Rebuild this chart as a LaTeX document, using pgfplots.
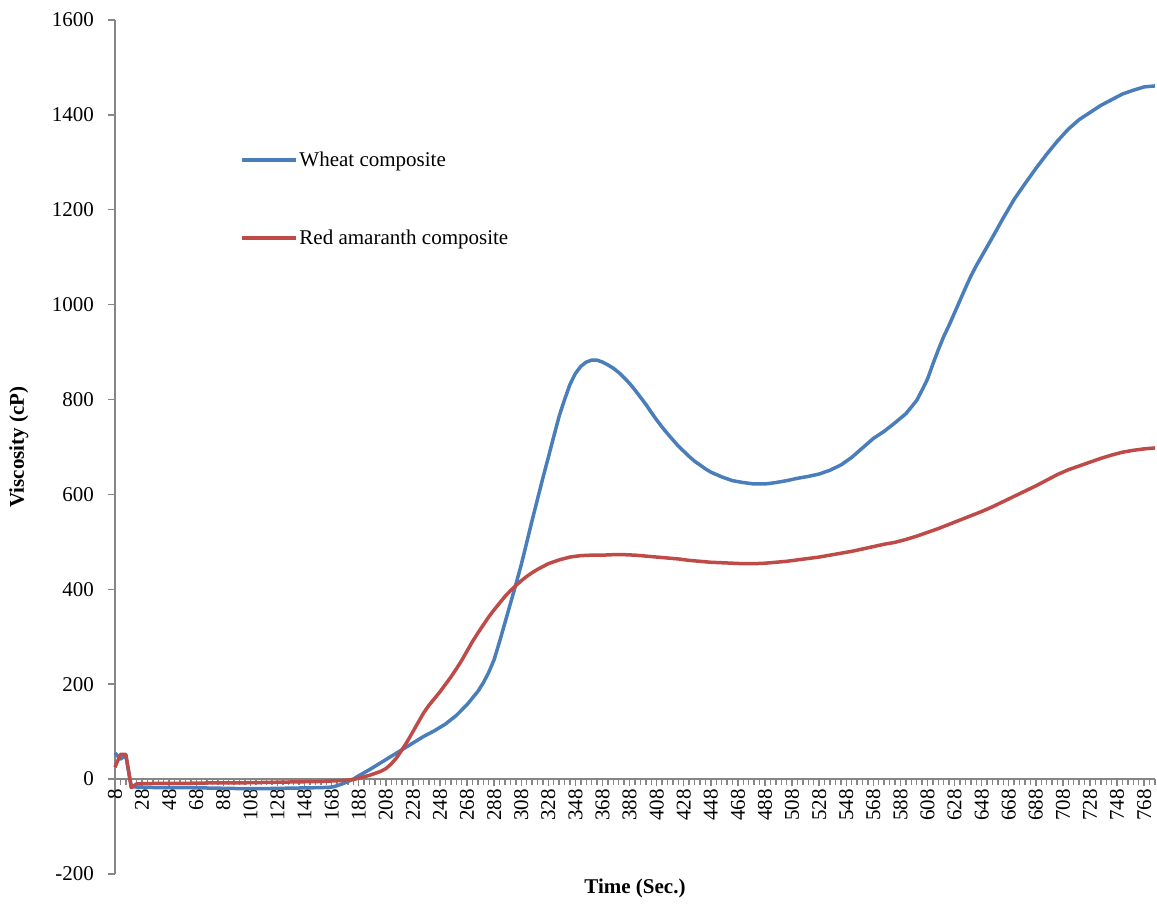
\documentclass[border=0pt]{standalone}
\usepackage{fontspec}
\setmainfont{Liberation Serif}
\usepackage{pgfplots}
\usepackage{pgfplotstable}
\pgfplotsset{compat=1.18}
\definecolor{wheat}{HTML}{4A7EBB}
\definecolor{amar}{HTML}{BE4B48}
\definecolor{axgray}{HTML}{868686}

\pgfplotstableread{
t v
8 55
12 42
16 50
20 -15
24 -17
40 -18
60 -18
80 -19
100 -20
120 -20
140 -19
160 -18
168 -17
172 -14
176 -10
180 -5
184 0
188 7
196 20
204 34
212 48
220 62
228 76
236 90
244 102
252 116
260 134
268 157
276 185
280 203
284 225
288 252
292 290
296 330
300 370
304 410
308 452
312 498
316 545
320 590
324 635
328 678
332 722
336 765
340 800
344 832
348 855
352 870
356 879
360 883
364 883
368 879
372 873
376 866
380 857
384 846
388 834
392 820
396 805
400 790
404 773
408 757
412 742
416 728
420 715
424 702
428 691
432 680
436 670
440 662
444 654
448 647
456 637
464 629
472 625
480 622
488 622
496 625
504 629
512 634
520 638
528 643
536 651
544 662
552 678
560 698
568 718
576 733
584 751
592 770
600 798
604 820
608 843
612 875
616 905
620 933
624 957
628 983
632 1009
636 1035
640 1060
644 1082
648 1102
652 1122
656 1142
664 1183
672 1222
680 1255
688 1287
696 1317
704 1345
712 1370
720 1390
728 1405
736 1420
744 1432
752 1444
760 1452
768 1459
776 1461
}\wheat

\pgfplotstableread{
t v
8 25
12 52
16 52
20 -18
24 -10
40 -9
60 -9
80 -8
100 -8
120 -7
140 -6
160 -5
176 -3
184 -1
188 2
196 8
204 16
208 22
212 32
216 45
220 62
224 80
228 100
232 120
236 140
240 156
244 170
248 184
256 215
260 232
264 250
268 270
272 290
276 308
280 325
284 342
288 357
292 371
296 385
300 397
304 408
308 418
312 427
316 435
320 442
328 454
336 462
344 468
352 471
360 472
368 472
376 473
384 473
392 472
400 470
408 468
416 466
424 464
432 461
440 459
448 457
456 456
464 455
472 454
480 454
488 455
496 457
504 459
512 462
520 465
528 468
536 472
544 476
552 480
560 485
568 490
576 495
584 499
592 505
600 512
608 520
616 528
624 537
632 546
640 555
648 564
656 574
664 585
672 596
680 607
688 618
696 630
704 642
712 652
720 660
728 668
736 676
744 683
752 689
760 693
768 696
776 698
}\amar

\begin{document}
\begin{tikzpicture}
\begin{axis}[
  name=ax,
  scale only axis,
  width=1040pt, height=854pt,
  xmin=8, xmax=776, ymin=-200, ymax=1600,
  axis y line*=left, axis x line*=middle,
  hide obscured x ticks=false,
  axis line style={axgray, line width=1.6pt, -},
  ytick={-200,0,...,1600},
  xtick={8,28,...,768},
  minor xtick={12,16,...,776},
  tick style={axgray, line width=1.4pt},
  major tick length=7pt, minor tick length=6pt,
  tick align=outside,
  /pgf/number format/assume math mode=true,
  /pgf/number format/1000 sep={},
  ticklabel style={font=\fontsize{21}{25}\selectfont},
  xticklabel style={rotate=90, anchor=east, inner sep=1pt, xshift=-2pt},
  yticklabel style={inner sep=2pt, xshift=-12pt},
  xlabel={\textbf{Time (Sec.)}},
  ylabel={\textbf{Viscosity (cP)}},
  xlabel style={at={(axis description cs:0.5,-0.0164)}, anchor=center, font=\fontsize{21}{25}\selectfont},
  ylabel style={at={(axis description cs:-0.0925,0.5)}, anchor=center, rotate=0, font=\fontsize{21}{25}\selectfont},
  legend style={draw=none, fill=none, at={(axis description cs:0.120,0.848)}, anchor=north west,
    row sep=58pt, font=\fontsize{21}{25}\selectfont, inner sep=0pt},
  legend cell align=left,
  legend image code/.code={\draw[#1, line width=3.5pt] (0pt,0pt) -- (54pt,0pt);},
  clip=false,
]
\addplot[wheat, line width=3.5pt, line join=round] table[x=t, y=v] {\wheat};
\addlegendentry{Wheat composite}
\addplot[amar, line width=3.5pt, line join=round] table[x=t, y=v] {\amar};
\addlegendentry{Red amaranth composite}
\end{axis}
\pgfresetboundingbox
\path ([shift={(-115pt,-31pt)}]ax.south west) rectangle ([shift={(2pt,20pt)}]ax.north east);
\end{tikzpicture}
\end{document}
